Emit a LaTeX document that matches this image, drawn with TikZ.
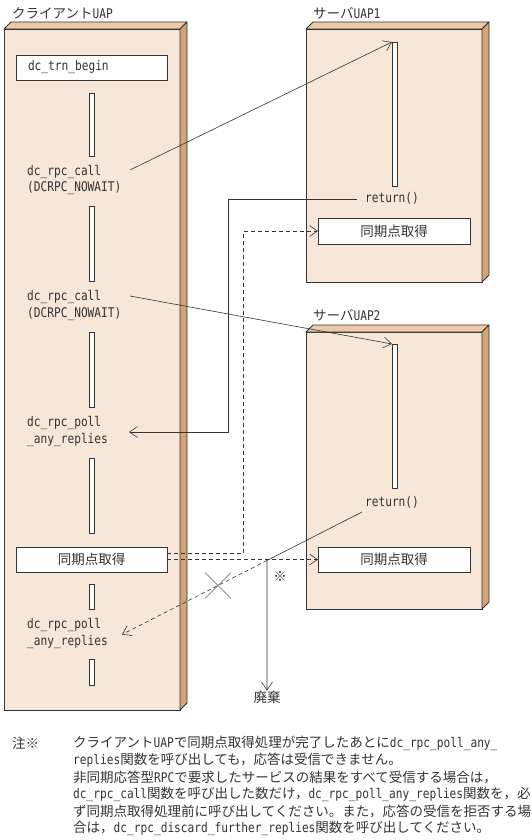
\documentclass[tikz,border=0pt]{standalone}
\usepackage{fontspec}
\setmainfont{Noto Sans CJK JP}
\newfontfamily\monofam[FakeStretch=0.84]{DejaVu Sans Mono}
\usetikzlibrary{arrows.meta,calc}
\newcommand\cd[1]{{\monofam\fontsize{13.3}{16}\selectfont #1}}
\definecolor{front}{HTML}{F7E7D8}
\definecolor{topf}{HTML}{ECC9A7}
\definecolor{side}{HTML}{D6A577}
\definecolor{ink}{HTML}{333333}
\newcommand\slab[1]{%
  \draw[draw=ink, fill=topf, line width=.8pt, line join=round] (#1.north west) -- ++(7,-7) -- ($(#1.north east)+(7,-7)$) -- (#1.north east) -- cycle;
  \draw[draw=ink, fill=side, line width=.8pt, line join=round] (#1.north east) -- ++(7,-7) -- ($(#1.south east)+(7,-7)$) -- (#1.south east) -- cycle;}
\tikzset{
  face/.style={draw=ink, fill=front, line width=0.8pt, inner sep=0, outer sep=0, anchor=north west},
  barnode/.style={draw=ink, fill=white, line width=0.7pt, minimum width=5pt, inner sep=0, outer sep=0},
  boxnode/.style={draw=ink, fill=white, line width=0.8pt, inner sep=0, outer sep=0},
  lbl/.style={inner sep=0, align=left, anchor=west},
  conn/.style={draw=ink, line width=0.6pt},
  tip/.style={-{Straight Barb[length=8pt,width=11pt]}},
  dsh/.style={dash pattern=on 4pt off 3pt},
}
\begin{document}
\begin{tikzpicture}[x=1pt,y=-1pt,font=\fontsize{13.5}{16.5}\selectfont,text=ink]
\useasboundingbox (0,0) rectangle (532,840);

% ---- client
\node[face, minimum width=176pt, minimum height=681pt] (cli) at (4,29) {};
\slab{cli}
\node[lbl] (tcli) at (12,13) {クライアント\cd{UAP}};
\node[boxnode, minimum width=151pt, minimum height=25pt, text width=127pt, align=left, inner xsep=12pt] (begin) at (91.5,67.5) {\cd{dc\_trn\_begin}};
\node[barnode, minimum height=63pt] (cb1) at (91.5,124.5) {};
\node[lbl] (call1) at (27,180) {\cd{dc\_rpc\_call}\\\cd{(DCRPC\_NOWAIT)}};
\node[barnode, minimum height=75pt] (cb2) at (91.5,243.5) {};
\node[lbl] (call2) at (27,305.5) {\cd{dc\_rpc\_call}\\\cd{(DCRPC\_NOWAIT)}};
\node[barnode, minimum height=75pt] (cb3) at (91.5,369.5) {};
\node[lbl] (poll1) at (27,431.5) {\cd{dc\_rpc\_poll}\\\cd{\_any\_replies}};
\node[barnode, minimum height=75pt] (cb4) at (91.5,495.5) {};
\node[boxnode, minimum width=151pt, minimum height=25pt] (csync) at (91.5,559.5) {同期点取得};
\node[barnode, minimum height=25pt] (cb5) at (91.5,596.5) {};
\node[lbl] (poll2) at (27,633.5) {\cd{dc\_rpc\_poll}\\\cd{\_any\_replies}};
\node[barnode, minimum height=26pt] (cb6) at (91.5,672) {};

% ---- server 1
\node[face, minimum width=176pt, minimum height=253pt] (s1) at (306,29) {};
\slab{s1}
\node[lbl] (ts1) at (313,13) {サーバ\cd{UAP1}};
\node[barnode, minimum height=144pt] (sb1) at (394.5,114) {};
\node[inner sep=0] (ret1) at (392,198) {\cd{return()}};
\node[boxnode, minimum width=152pt, minimum height=26pt] (sync1) at (394,231) {同期点取得};

% ---- server 2
\node[face, minimum width=176pt, minimum height=277pt] (s2) at (306,332) {};
\slab{s2}
\node[lbl] (ts2) at (313,315) {サーバ\cd{UAP2}};
\node[barnode, minimum height=144pt] (sb2) at (394.5,416) {};
\node[inner sep=0] (ret2) at (392,502) {\cd{return()}};
\node[boxnode, minimum width=152pt, minimum height=25pt] (sync2) at (394,559.5) {同期点取得};

% ---- connectors
\coordinate (c1s) at (130,170);
\draw[conn,tip] (c1s) -- (sb1.north west);
\coordinate (c2s) at (130,296);
\draw[conn,tip] (c2s) -- (sb2.north west);

\coordinate (r1s) at ($(ret1.west)+(-8,1)$);
\coordinate (j1) at (228,199);
\coordinate (p1e) at (129,432);
\draw[conn,tip] (r1s) -- (j1) |- (p1e);

\coordinate (j2) at ($(csync.east)+(76,-6)$);
\draw[conn,dsh,tip] ($(csync.east)+(0,-6)$) -- (j2) |- (sync1.west);
\draw[conn,dsh,tip] (csync.east) -- (sync2.west);

\coordinate (r2s) at ($(ret2.center)+(-30,10)$);
\coordinate (p2e) at (122,634.5);
\coordinate (split) at ($(r2s)!0.396!(p2e)$);
\node[inner sep=0] (haiki) at (267,697) {廃棄};
\node[inner sep=0] (kome) at (280,576) {※};
\draw[conn] (r2s) -- (split);
\draw[conn,dsh,tip] (split) -- (p2e);
\draw[conn,tip] (split) -- (haiki.north);
\coordinate (xm) at ($(r2s)!0.6!(p2e)$);
\draw[draw=ink!80, line width=0.5pt] ($(xm)+(-13,-13)$) -- ($(xm)+(13,13)$);
\draw[draw=ink!80, line width=0.5pt] ($(xm)+(-13,13)$) -- ($(xm)+(13,-13)$);

% ---- notes
\node[lbl] (n0) at (12,743) {注※};
\node[lbl] (n1) at (73,743) {クライアント\cd{UAP}で同期点取得処理が完了したあとに\cd{dc\_rpc\_poll\_any\_}};
\node[lbl] (n2) at (73,760) {\cd{replies}関数を呼び出しても，応答は受信できません。};
\node[lbl] (n3) at (73,777) {非同期応答型\cd{RPC}で要求したサービスの結果をすべて受信する場合は，};
\node[lbl] (n4) at (73,794) {\cd{dc\_rpc\_call}関数を呼び出した数だけ，\cd{dc\_rpc\_poll\_any\_replies}関数を，必};
\node[lbl] (n5) at (73,811) {ず同期点取得処理前に呼び出してください。また，応答の受信を拒否する場};
\node[lbl] (n6) at (73,828) {合は，\cd{dc\_rpc\_discard\_further\_replies}関数を呼び出してください。};
\end{tikzpicture}
\end{document}
